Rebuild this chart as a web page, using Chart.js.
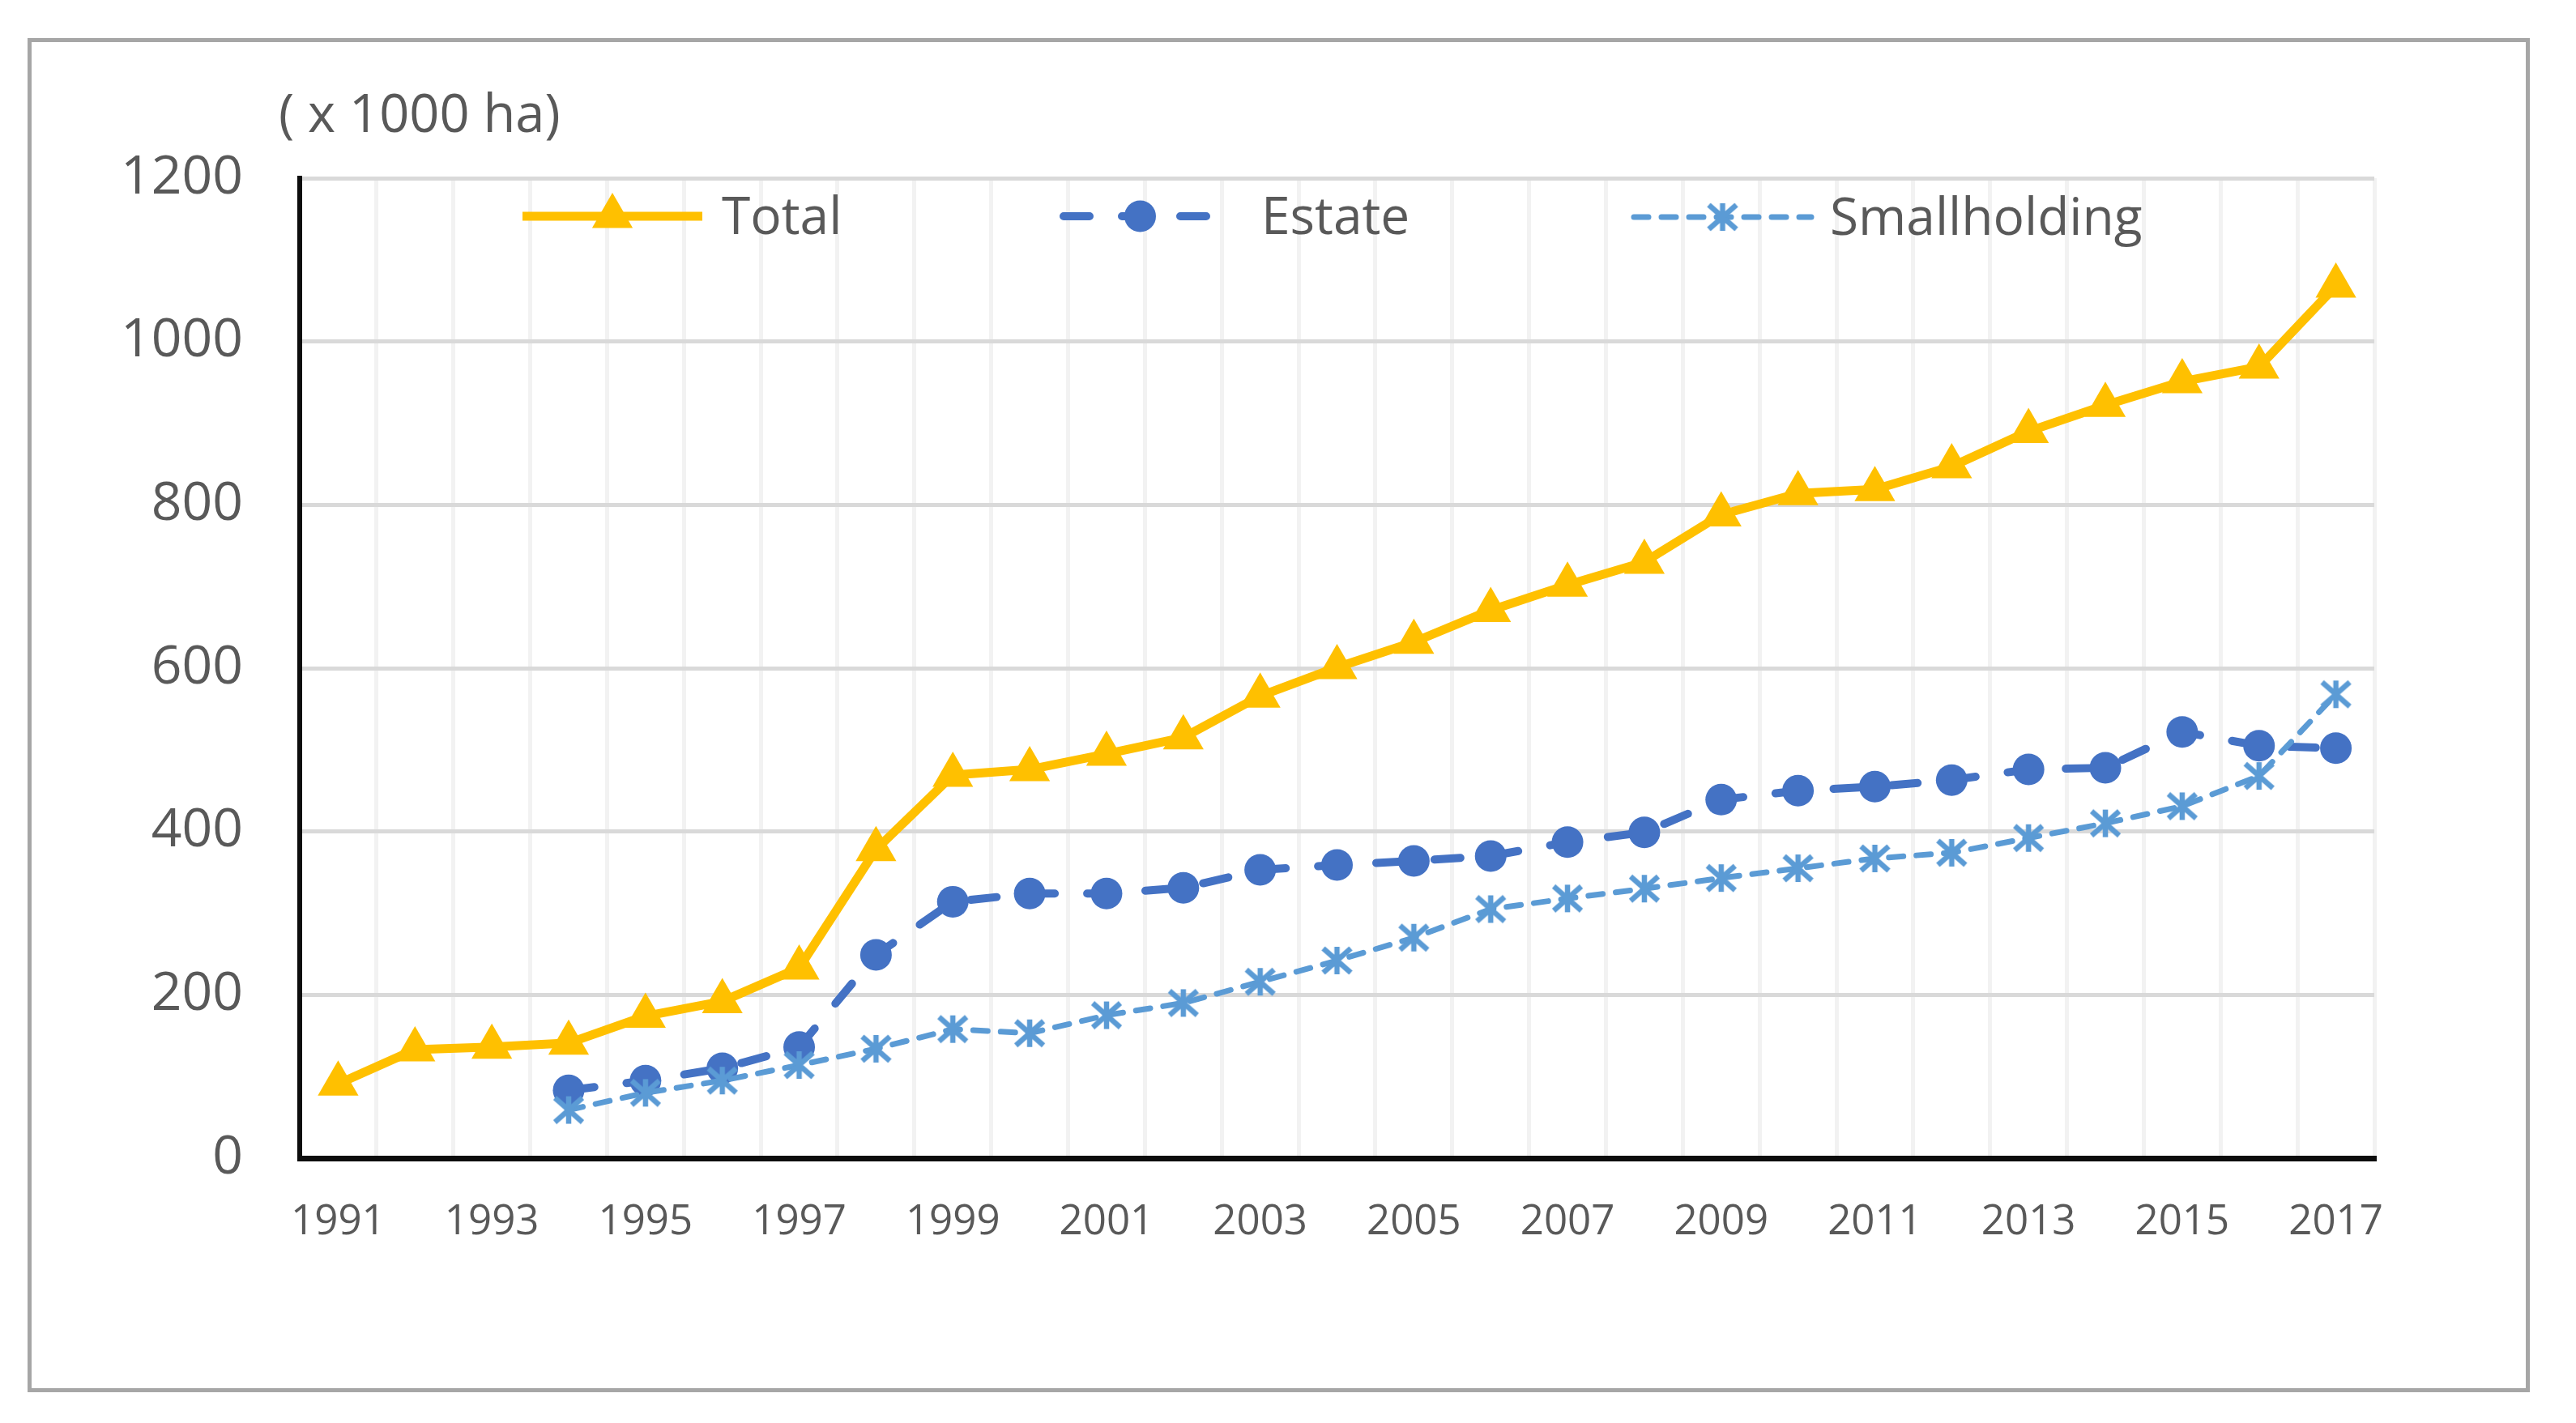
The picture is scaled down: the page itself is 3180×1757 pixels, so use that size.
<!DOCTYPE html>
<html>
<head>
<meta charset="utf-8">
<script src="https://cdn.jsdelivr.net/npm/chart.js@4/dist/chart.umd.min.js"></script>
<style>
    html, body { margin: 0; padding: 0; background: #fff; }
    #frame {
        position: absolute; left: 34px; top: 47px;
        width: 3089px; height: 1672px;
        box-sizing: border-box; border: 5px solid #A6A6A6;
    }
    #chart { position: absolute; left: 0; top: 0; }
</style>
</head>
<body>
<div id="frame"></div>
<canvas id="chart" width="3180" height="1757" style="width:3180px;height:1757px"></canvas>
<script>
'use strict';

const years = ['1991', '1992', '1993', '1994', '1995', '1996', '1997', '1998', '1999', '2000',
    '2001', '2002', '2003', '2004', '2005', '2006', '2007', '2008', '2009', '2010',
    '2011', '2012', '2013', '2014', '2015', '2016', '2017'];

const total = [91, 133, 136, 141, 174, 192, 233, 378, 469, 476,
    495, 515, 566, 601, 632, 671, 702, 730, 788, 814,
    819, 847, 890, 922, 951, 969, 1068];

const estate = [null, null, null, 83, 95, 110, 136, 249, 314, 324,
    324, 331, 353, 359, 364, 370, 387, 399, 439, 450,
    455, 463, 476, 478, 522, 505, 502];

const smallholding = [null, null, null, 59, 80, 95, 114, 134, 158, 153,
    175, 190, 216, 242, 270, 305, 318, 330, 343, 355,
    367, 374, 392, 410, 431, 468, 568];

const unitLabel = '( x 1000 ha)';
const yTicks = { min: 0, max: 1200, step: 200 };

const FONT = '"Open Sans", "DejaVu Sans", sans-serif';
const TEXT_COLOR = '#595959';


// Excel-like asterisk marker (vertical bar + X)
function makeStar(color) {
    const c = document.createElement('canvas');
    c.width = 40;
    c.height = 40;
    const g = c.getContext('2d');
    g.strokeStyle = color;
    g.lineWidth = 6.5;
    g.beginPath();
    g.moveTo(20, 3); g.lineTo(20, 37);
    g.moveTo(3, 5); g.lineTo(37, 35);
    g.moveTo(37, 5); g.lineTo(3, 35);
    g.stroke();
    return c;
}

const starMarker = makeStar('#5B9BD5');


// legend drawn inside the plot, the way Excel puts it
const legendItems = [
    { ds: 0, x1: 645, x2: 867, y: 267, textX: 891 },
    { ds: 1, x1: 1313, x2: 1502, y: 267, textX: 1557 },
    { ds: 2, x1: 2017, x2: 2236, y: 268, textX: 2259 }
];

const insideLegend = {
    id: 'insideLegend',
    afterDraw(chart) {
        const ctx = chart.ctx;
        ctx.save();

        legendItems.forEach(item => {
            const ds = chart.data.datasets[item.ds];
            ctx.strokeStyle = ds.borderColor;
            ctx.lineWidth = ds.borderWidth;
            ctx.lineCap = ds.borderCapStyle || 'butt';
            ctx.setLineDash(ds.borderDash || []);
            ctx.beginPath();
            ctx.moveTo(item.x1, item.y);
            ctx.lineTo(item.x2, item.y);
            ctx.stroke();

            ctx.setLineDash([]);
            ctx.fillStyle = ds.pointBackgroundColor;
            Chart.helpers.drawPoint(ctx, {
                pointStyle: ds.pointStyle,
                radius: ds.pointRadius,
                rotation: 0,
                borderWidth: 0
            }, (item.x1 + item.x2) / 2, item.y);

            ctx.fillStyle = TEXT_COLOR;
            ctx.font = '64px ' + FONT;
            ctx.textAlign = 'left';
            ctx.textBaseline = 'alphabetic';
            ctx.fillText(ds.label, item.textX, item.y + 22);
        });

        // unit text above the y axis
        ctx.font = '65px ' + FONT;
        ctx.fillStyle = TEXT_COLOR;
        ctx.fillText(unitLabel, 344, 163);

        ctx.restore();
    }
};


const ctx = document.getElementById('chart').getContext('2d');

new Chart(ctx, {
    type: 'line',
    data: {
        labels: years,
        datasets: [
            {
                label: 'Total',
                data: total,
                order: 3,
                borderColor: '#FFC000',
                borderWidth: 11,
                borderJoinStyle: 'round',
                pointStyle: 'triangle',
                pointRadius: 29,
                pointBackgroundColor: '#FFC000',
                pointBorderWidth: 0,
                tension: 0
            },
            {
                label: 'Estate',
                data: estate,
                order: 2,
                borderColor: '#4472C4',
                borderWidth: 10,
                borderDash: [32, 40],
                borderCapStyle: 'round',
                pointStyle: 'circle',
                pointRadius: 19.5,
                pointBackgroundColor: '#4472C4',
                pointBorderWidth: 0,
                tension: 0
            },
            {
                label: 'Smallholding',
                data: smallholding,
                order: 1,
                borderColor: '#5B9BD5',
                borderWidth: 7,
                borderDash: [18, 16],
                borderCapStyle: 'round',
                pointStyle: starMarker,
                pointRadius: 19,
                pointBackgroundColor: '#5B9BD5',
                pointBorderWidth: 0,
                tension: 0
            }
        ]
    },
    options: {
        responsive: false,
        devicePixelRatio: 1,
        animation: false,
        layout: { padding: { left: 0, top: 220, right: 249, bottom: 0 } },
        plugins: {
            legend: { display: false },
            title: { display: false },
            tooltip: { enabled: false }
        },
        scales: {
            x: {
                type: 'category',
                offset: true,
                grid: { offset: true, color: '#F2F2F2', lineWidth: 5, drawTicks: false },
                border: { color: '#0D0D0D', width: 7 },
                ticks: {
                    autoSkip: false,
                    maxRotation: 0,
                    padding: 49,
                    color: TEXT_COLOR,
                    font: { family: FONT, size: 51 },
                    callback: function (value, index) {
                        // every second year, as in the original
                        return index % 2 === 0 ? this.getLabelForValue(value) : '';
                    }
                },
                afterFit: scale => { scale.height = 327; }
            },
            y: {
                min: yTicks.min,
                max: yTicks.max,
                grid: { color: '#D9D9D9', lineWidth: 5, drawTicks: false },
                border: { color: '#0D0D0D', width: 6 },
                ticks: {
                    stepSize: yTicks.step,
                    padding: 70,
                    color: TEXT_COLOR,
                    font: { family: FONT, size: 66 },
                    callback: value => String(value)
                },
                afterFit: scale => { scale.width = 370; }
            }
        }
    },
    plugins: [insideLegend]
});
</script>
</body>
</html>
